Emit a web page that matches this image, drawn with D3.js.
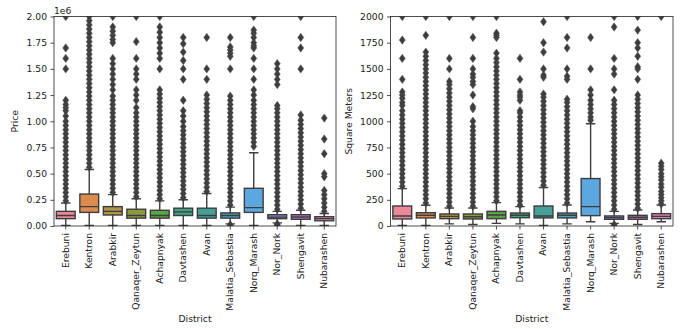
<!DOCTYPE html>
<html>
<head>
<meta charset="utf-8">
<script src="https://cdn.jsdelivr.net/npm/d3@7"></script>
<style>
  body { margin: 0; background: #fff; }
  text { font-family: "DejaVu Sans", sans-serif; fill: #222; }
</style>
</head>
<body>
<div id="chart"></div>
<script>
const districts = ['Erebuni', 'Kentron', 'Arabkir', 'Qanaqer_Zeytun', 'Achapnyak', 'Davtashen',
  'Avan', 'Malatia_Sebastia', 'Norq_Marash', 'Nor_Nork', 'Shengavit', 'Nubarashen'];
const colors = ['#e8889a', '#dc8b4e', '#b09447', '#8f9a3f', '#58a545', '#43a087',
  '#45a09a', '#4aa2b8', '#5da7e0', '#8a86cc', '#c07ad0', '#d882b4'];

// price, in millions: [whiskerLow, q1, median, q3, whiskerHigh]
const priceBoxes = [
  [0.005, 0.07, 0.10, 0.14, 0.22],
  [0.005, 0.13, 0.185, 0.305, 0.54],
  [0.005, 0.105, 0.14, 0.185, 0.30],
  [0.005, 0.075, 0.10, 0.16, 0.26],
  [0.005, 0.075, 0.10, 0.15, 0.24],
  [0.005, 0.10, 0.135, 0.17, 0.25],
  [0.005, 0.075, 0.10, 0.17, 0.31],
  [0.02, 0.075, 0.10, 0.125, 0.18],
  [0.005, 0.13, 0.175, 0.36, 0.70],
  [0.03, 0.07, 0.085, 0.108, 0.14],
  [0.005, 0.064, 0.086, 0.108, 0.15],
  [0.005, 0.05, 0.07, 0.089, 0.12]
];
const priceOutliers = [
  [0.24, 0.28, 0.32, 0.36, 0.40, 0.44, 0.48, 0.52, 0.56, 0.60, 0.64, 0.68, 0.72, 0.76, 0.80, 0.84, 0.88, 0.92, 0.96, 1.00, 1.05, 1.10, 1.13, 1.16, 1.20, 1.50, 1.60, 1.70, 2.00],
  [0.56, 0.60, 0.64, 0.68, 0.72, 0.76, 0.80, 0.84, 0.88, 0.92, 0.96, 1.00, 1.04, 1.08, 1.12, 1.16, 1.20, 1.24, 1.28, 1.32, 1.36, 1.40, 1.44, 1.48, 1.52, 1.56, 1.60, 1.64, 1.68, 1.72, 1.76, 1.80, 1.84, 1.88, 1.92, 1.96, 2.00],
  [0.32, 0.36, 0.40, 0.44, 0.48, 0.52, 0.56, 0.60, 0.64, 0.68, 0.72, 0.76, 0.80, 0.84, 0.88, 0.92, 0.96, 1.00, 1.04, 1.08, 1.12, 1.16, 1.20, 1.24, 1.30, 1.35, 1.40, 1.45, 1.50, 1.55, 1.60, 1.75, 1.78, 1.82, 1.86, 1.90, 2.00],
  [0.28, 0.32, 0.36, 0.40, 0.44, 0.48, 0.52, 0.56, 0.60, 0.64, 0.68, 0.72, 0.76, 0.80, 0.84, 0.88, 0.92, 0.96, 1.00, 1.04, 1.08, 1.13, 1.20, 1.25, 1.30, 1.40, 1.45, 1.50, 1.60, 1.76, 2.00],
  [0.26, 0.30, 0.34, 0.38, 0.42, 0.46, 0.50, 0.54, 0.58, 0.62, 0.66, 0.70, 0.74, 0.78, 0.82, 0.86, 0.90, 0.94, 0.98, 1.02, 1.06, 1.10, 1.14, 1.18, 1.22, 1.26, 1.30, 1.50, 1.60, 1.65, 1.70, 1.75, 1.80, 1.85, 1.90, 2.00],
  [0.27, 0.31, 0.35, 0.39, 0.43, 0.47, 0.51, 0.55, 0.59, 0.63, 0.67, 0.71, 0.75, 0.79, 0.83, 0.87, 0.91, 0.95, 1.00, 1.05, 1.10, 1.20, 1.40, 1.50, 1.58, 1.66, 1.74, 1.80],
  [0.33, 0.37, 0.41, 0.45, 0.49, 0.53, 0.57, 0.61, 0.65, 0.69, 0.73, 0.77, 0.81, 0.85, 0.89, 0.93, 0.97, 1.01, 1.05, 1.09, 1.13, 1.17, 1.21, 1.25, 1.40, 1.50, 1.80],
  [0.005, 0.012, 0.20, 0.24, 0.28, 0.32, 0.36, 0.40, 0.44, 0.48, 0.52, 0.56, 0.60, 0.64, 0.68, 0.72, 0.76, 0.80, 0.84, 0.88, 0.92, 0.96, 1.00, 1.04, 1.08, 1.12, 1.16, 1.20, 1.24, 1.50, 1.62, 1.65, 1.68, 1.71, 1.80],
  [0.76, 0.80, 0.84, 0.88, 0.92, 0.96, 1.00, 1.04, 1.08, 1.12, 1.16, 1.20, 1.25, 1.30, 1.40, 1.50, 1.60, 1.70, 1.72, 1.75, 1.80, 1.84, 1.87, 2.00],
  [0.005, 0.012, 0.02, 0.16, 0.20, 0.24, 0.28, 0.32, 0.36, 0.40, 0.44, 0.48, 0.52, 0.56, 0.60, 0.64, 0.68, 0.72, 0.76, 0.80, 0.84, 0.88, 0.92, 0.96, 1.00, 1.04, 1.08, 1.12, 1.15, 1.35, 1.40, 1.45, 1.50, 1.55],
  [0.17, 0.21, 0.25, 0.29, 0.33, 0.37, 0.41, 0.45, 0.49, 0.53, 0.57, 0.61, 0.65, 0.69, 0.73, 0.77, 0.81, 0.85, 0.89, 0.93, 0.97, 1.01, 1.06, 1.50, 1.70, 1.80, 2.00],
  [0.14, 0.18, 0.22, 0.26, 0.30, 0.34, 0.47, 0.50, 0.69, 0.83, 1.03]
];

// square meters: [whiskerLow, q1, median, q3, whiskerHigh]
const areaBoxes = [
  [5, 67, 95, 191, 357],
  [5, 77, 102, 127, 198],
  [20, 70, 92, 115, 172],
  [15, 67, 89, 115, 172],
  [25, 70, 105, 140, 223],
  [20, 79, 102, 124, 185],
  [5, 77, 95, 191, 367],
  [20, 77, 102, 124, 201],
  [41, 99, 185, 453, 976],
  [25, 64, 80, 96, 140],
  [15, 64, 83, 102, 153],
  [40, 70, 92, 118, 201]
];
const areaOutliers = [
  [380, 420, 460, 500, 540, 580, 620, 660, 700, 740, 780, 820, 860, 900, 940, 980, 1020, 1060, 1100, 1150, 1180, 1220, 1250, 1280, 1400, 1600, 1775, 2000],
  [220, 260, 300, 340, 380, 420, 460, 500, 540, 580, 620, 660, 700, 740, 780, 820, 860, 900, 940, 980, 1020, 1060, 1100, 1140, 1180, 1220, 1260, 1300, 1340, 1380, 1420, 1460, 1500, 1540, 1580, 1620, 1660, 1820, 2000],
  [190, 230, 270, 310, 350, 390, 430, 470, 510, 550, 590, 630, 670, 710, 750, 790, 830, 870, 910, 950, 990, 1030, 1070, 1110, 1150, 1190, 1230, 1270, 1310, 1350, 1380, 1500, 1600, 2000],
  [190, 230, 270, 310, 350, 390, 430, 470, 510, 550, 590, 630, 670, 710, 750, 790, 830, 870, 910, 950, 1000, 1120, 1140, 1250, 1350, 1380, 1420, 1450, 1500, 1600, 1800, 2000],
  [240, 280, 320, 360, 400, 440, 480, 520, 560, 600, 640, 680, 720, 760, 800, 840, 880, 920, 960, 1000, 1040, 1080, 1120, 1160, 1200, 1240, 1280, 1320, 1360, 1400, 1440, 1480, 1520, 1560, 1600, 1650, 1800, 1820, 1840, 2000],
  [200, 240, 280, 320, 360, 400, 440, 480, 520, 560, 600, 640, 680, 720, 760, 800, 840, 880, 920, 960, 1000, 1040, 1080, 1100, 1200, 1230, 1250, 1280, 1400, 1600],
  [390, 430, 470, 510, 550, 590, 630, 670, 710, 750, 790, 830, 870, 910, 950, 990, 1030, 1070, 1110, 1150, 1190, 1230, 1260, 1420, 1440, 1500, 1660, 1750, 1950],
  [220, 260, 300, 340, 380, 420, 460, 500, 540, 580, 620, 660, 700, 740, 780, 820, 860, 900, 940, 980, 1020, 1060, 1100, 1140, 1180, 1210, 1400, 1430, 1500, 1700, 1800, 2000],
  [1010, 1040, 1080, 1120, 1160, 1200, 1250, 1300, 1500, 1800],
  [5, 12, 160, 200, 240, 280, 320, 360, 400, 440, 480, 520, 560, 600, 640, 680, 720, 760, 800, 840, 880, 920, 960, 1000, 1040, 1080, 1120, 1160, 1200, 1300, 1450, 1500, 1600, 1900, 2000],
  [170, 210, 250, 290, 330, 370, 410, 450, 490, 530, 570, 610, 650, 690, 730, 770, 810, 850, 890, 930, 970, 1010, 1050, 1090, 1130, 1170, 1210, 1250, 1400, 1500, 1520, 1620, 1700, 1750, 1870, 2000],
  [210, 240, 270, 300, 330, 370, 400, 440, 470, 500, 540, 570, 600, 2000]
];

const priceTicks = [0, 0.25, 0.5, 0.75, 1.0, 1.25, 1.5, 1.75, 2.0];
const areaTicks = [0, 250, 500, 750, 1000, 1250, 1500, 1750, 2000];

const width = 682, height = 329;
const plotTop = 16.5, plotBottom = 226;
const gray = '#3d3d3d';

const svg = d3.select('#chart').append('svg')
  .attr('width', width)
  .attr('height', height);

function drawPanel(id, left, right, boxes, outliers, ticks, yMax, yLabel, labelX, tickFmt, offsetText) {
  const x = d3.scaleBand().domain(districts).range([left, right]).padding(0);
  const y = d3.scaleLinear().domain([0, yMax]).range([plotBottom, plotTop]);
  const boxW = x.bandwidth() * 0.8;
  const capW = boxW * 0.5;

  svg.append('clipPath').attr('id', id)
    .append('rect').attr('x', left).attr('y', plotTop).attr('width', right - left).attr('height', plotBottom - plotTop);

  const g = svg.append('g').attr('clip-path', 'url(#' + id + ')');

  districts.forEach((d, i) => {
    const b = boxes[i];
    const cx = x(d) + x.bandwidth() / 2;
    const box = g.append('g');

    // whiskers
    box.append('line').attr('x1', cx).attr('x2', cx).attr('y1', y(b[3])).attr('y2', y(b[4]))
      .attr('stroke', gray).attr('stroke-width', 1.4);
    box.append('line').attr('x1', cx).attr('x2', cx).attr('y1', y(b[1])).attr('y2', y(b[0]))
      .attr('stroke', gray).attr('stroke-width', 1.4);
    box.append('line').attr('x1', cx - capW / 2).attr('x2', cx + capW / 2).attr('y1', y(b[4])).attr('y2', y(b[4]))
      .attr('stroke', gray).attr('stroke-width', 1.4);
    box.append('line').attr('x1', cx - capW / 2).attr('x2', cx + capW / 2).attr('y1', y(b[0])).attr('y2', y(b[0]))
      .attr('stroke', gray).attr('stroke-width', 1.4);

    box.append('rect')
      .attr('x', cx - boxW / 2)
      .attr('y', y(b[3]))
      .attr('width', boxW)
      .attr('height', y(b[1]) - y(b[3]))
      .attr('fill', colors[i])
      .attr('stroke', gray)
      .attr('stroke-width', 1.4);

    box.append('line').attr('x1', cx - boxW / 2).attr('x2', cx + boxW / 2).attr('y1', y(b[2])).attr('y2', y(b[2]))
      .attr('stroke', gray).attr('stroke-width', 1.4);

    // fliers (thin diamonds)
    box.selectAll('path.flier')
      .data(outliers[i])
      .enter().append('path')
      .attr('class', 'flier')
      .attr('d', v => {
        const py = y(v);
        return 'M' + cx + ',' + (py - 4.2) + 'L' + (cx + 3) + ',' + py + 'L' + cx + ',' + (py + 4.2) + 'L' + (cx - 3) + ',' + py + 'Z';
      })
      .attr('fill', gray)
      .attr('stroke', '#555')
      .attr('stroke-width', 0.5);
  });

  // axes
  const yAxis = svg.append('g')
    .attr('transform', 'translate(' + left + ',0)')
    .call(d3.axisLeft(y).tickValues(ticks).tickSize(3.5).tickPadding(3.5).tickFormat(tickFmt));
  yAxis.select('.domain').remove();
  yAxis.selectAll('.tick line').attr('stroke', '#222').attr('stroke-width', 0.8);
  yAxis.selectAll('text').style('font-size', '9.2px').attr('fill', '#222');

  const xAxis = svg.append('g')
    .attr('transform', 'translate(0,' + plotBottom + ')')
    .call(d3.axisBottom(x).tickSize(3.5).tickPadding(3.5));
  xAxis.select('.domain').remove();
  xAxis.selectAll('.tick line').attr('stroke', '#222').attr('stroke-width', 0.8);
  xAxis.selectAll('text')
    .style('font-size', '9.2px')
    .attr('fill', '#222')
    .style('text-anchor', 'end')
    .attr('dy', '0.32em')
    .attr('x', -3.5 - 3.5)
    .attr('y', 0)
    .attr('transform', 'rotate(-90)');

  svg.append('rect')
    .attr('x', left).attr('y', plotTop).attr('width', right - left).attr('height', plotBottom - plotTop)
    .attr('fill', 'none').attr('stroke', '#222').attr('stroke-width', 0.8);

  svg.append('text')
    .attr('transform', 'translate(' + labelX + ',' + ((plotTop + plotBottom) / 2) + ') rotate(-90)')
    .attr('text-anchor', 'middle')
    .style('font-size', '9.2px')
    .text(yLabel);

  svg.append('text')
    .attr('x', (left + right) / 2)
    .attr('y', 322)
    .attr('text-anchor', 'middle')
    .style('font-size', '9.2px')
    .text('District');

  if (offsetText) {
    svg.append('text')
      .attr('x', left)
      .attr('y', plotTop - 3)
      .style('font-size', '9.2px')
      .text(offsetText);
  }
}

drawPanel('clipA', 54, 336, priceBoxes, priceOutliers, priceTicks, 2.0,
  'Price', 18, d3.format('.2f'), '1e6');
drawPanel('clipB', 390.5, 673, areaBoxes, areaOutliers, areaTicks, 2000,
  'Square Meters', 352, d3.format('d'), null);
</script>
</body>
</html>
